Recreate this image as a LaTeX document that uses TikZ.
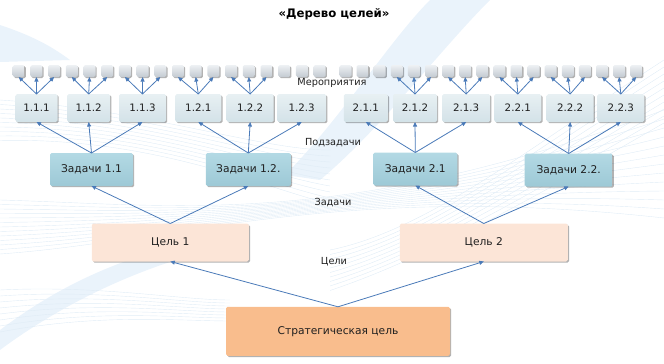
\documentclass[tikz,border=0pt]{standalone}
\usepackage{fontspec}
\setmainfont{DejaVu Sans}
\usetikzlibrary{shadows,arrows.meta}
\definecolor{arr}{HTML}{4A7AB8}
\definecolor{bgline}{HTML}{E0ECF6}
\definecolor{bgfill}{HTML}{EAF3FB}
\definecolor{sqtop}{HTML}{EEF1F4}
\definecolor{sqbot}{HTML}{C3CAD1}
\definecolor{subtop}{HTML}{E8F0F3}
\definecolor{subbot}{HTML}{D3E2E8}
\definecolor{tasktop}{HTML}{B3D9E4}
\definecolor{taskbot}{HTML}{9DC9D6}
\definecolor{goalfill}{HTML}{FCE5D7}
\definecolor{stratfill}{HTML}{F9BD8D}
\tikzset{
  base/.style={draw=none, rounded corners=1.2pt, inner sep=0pt, outer sep=0pt,
    align=center, text=black!88, font=\fontsize{8}{9.6}\selectfont,
    drop shadow={shadow xshift=0.9pt, shadow yshift=-0.9pt, fill=black, opacity=0.3}},
  wpx/.style={minimum width=#1*0.75pt},
  hpx/.style={minimum height=#1*0.75pt},
  sq/.style={base, wpx=12, hpx=12, top color=sqtop, bottom color=sqbot},
  subbox/.style={base, hpx=28, top color=subtop, bottom color=subbot, font=\fontsize{7.7}{9}\selectfont},
  taskbox/.style={base, hpx=33, top color=tasktop, bottom color=taskbot},
  goalbox/.style={base, hpx=38, fill=goalfill},
  stratbox/.style={base, hpx=49, fill=stratfill},
  lbl/.style={inner sep=0pt, text=black!88, font=\fontsize{7.3}{8.5}\selectfont},
  arrowln/.style={draw=arr, line width=0.6pt, -{Triangle[length=3.4pt,width=3pt]}},
}
\begin{document}
\begin{tikzpicture}[x=0.75pt,y=-0.75pt]
\useasboundingbox (0,0) rectangle (664,364);
% background decoration
\fill[bgfill] (285,175) .. controls (340,120) and (390,40) .. (430,0) -- (490,0) .. controls (440,50) and (380,130) .. (320,180) -- cycle;
\fill[bgfill] (0,25) .. controls (30,35) and (50,45) .. (70,60) -- (0,62) -- cycle;
\fill[bgfill] (0,330) .. controls (40,300) and (90,270) .. (160,250) -- (170,262) .. controls (100,285) and (40,320) .. (0,350) -- cycle;
\begin{scope}[draw=bgline, line width=0.3pt]
\foreach \k in {0,...,12} {
  \draw (0,{200+4.5*\k}) .. controls (180,{205+3*\k}) and (340,{230-4*\k}) .. (664,{110+9*\k});
}
\foreach \k in {0,...,9} {
  \draw (0,{100+4.5*\k}) .. controls (150,{110+3*\k}) and (260,{150+4*\k}) .. (330,{150+6*\k});
}
\foreach \k in {0,...,9} {
  \draw (330,{250+4.5*\k}) .. controls (430,{230+3*\k}) and (540,{140+6*\k}) .. (664,{60+7*\k});
}
\foreach \k in {0,...,7} {
  \draw (0,{290+6*\k}) .. controls (100,{285+4*\k}) and (180,{300+3*\k}) .. (230,{300+3*\k});
}
\end{scope}
% title
\node[font=\bfseries\fontsize{8.8}{10.5}\selectfont, text=black] (title) at (334,14) {«Дерево целей»};
% level labels
\node[lbl] (lmer) at (332,83) {Мероприятия};
\node[lbl] (lpod) at (333,142.5) {Подзадачи};
\node[lbl] (lzad) at (333,203) {Задачи};
\node[lbl] (lcel) at (334,262) {Цели};
% squares (left half)
\foreach \g [count=\gi from 0] in {111,112,113,121,122,123} {
  \foreach \j in {0,1,2} {
    \node[sq] (s\g-\j) at ({18.7+17.7*(3*\gi+\j)},71) {};
  }
}
% squares (right half)
\foreach \g [count=\gi from 0] in {211,212,213,221,222,223} {
  \foreach \j in {0,1,2} {
    \node[sq] (s\g-\j) at ({345.5+17.1*(3*\gi+\j)},71) {};
  }
}
% subtask boxes
\node[subbox, wpx=42] (b111) at (36.5,108) {1.1.1};
\node[subbox, wpx=43] (b112) at (88.7,108) {1.1.2};
\node[subbox, wpx=47] (b113) at (142.5,108) {1.1.3};
\node[subbox, wpx=46] (b121) at (198.3,108) {1.2.1};
\node[subbox, wpx=47] (b122) at (250.2,108) {1.2.2};
\node[subbox, wpx=49] (b123) at (301.7,108) {1.2.3};
\node[subbox, wpx=44] (b211) at (365.8,108) {2.1.1};
\node[subbox, wpx=44] (b212) at (415,108) {2.1.2};
\node[subbox, wpx=48] (b213) at (466.2,108) {2.1.3};
\node[subbox, wpx=47] (b221) at (517.8,108) {2.2.1};
\node[subbox, wpx=47] (b222) at (570.2,108) {2.2.2};
\node[subbox, wpx=47] (b223) at (620.8,108) {2.2.3};
% task boxes
\node[taskbox, wpx=83] (t11) at (91.5,169.5) {Задачи 1.1};
\node[taskbox, wpx=85] (t12) at (248.3,169.5) {Задачи 1.2.};
\node[taskbox, wpx=84] (t21) at (415.3,169) {Задачи 2.1};
\node[taskbox, wpx=88] (t22) at (568.7,170) {Задачи 2.2.};
% goal boxes
\node[goalbox, wpx=157] (g1) at (170.3,242.5) {Цель 1};
\node[goalbox, wpx=168] (g2) at (483.8,242.5) {Цель 2};
% strategic goal
\node[stratbox, wpx=224] (sg) at (338,331.3) {Стратегическая цель};
% arrows: subtasks -> activities
\foreach \g in {111,112,113,121,122,212,213,221,222,223} {
  \foreach \j in {0,1,2} {
    \draw[arrowln] (b\g.north) -- (s\g-\j.south);
  }
}
% tasks -> subtasks
\foreach \t/\a/\b/\c in {t11/b111/b112/b113, t12/b121/b122/b123, t21/b211/b212/b213, t22/b221/b222/b223} {
  \draw[arrowln] (\t.north) -- (\a.south);
  \draw[arrowln] (\t.north) -- (\b.south);
  \draw[arrowln] (\t.north) -- (\c.south);
}
% goals -> tasks
\draw[arrowln] (g1.north) -- (t11.south);
\draw[arrowln] (g1.north) -- (t12.south);
\draw[arrowln] (g2.north) -- (t21.south);
\draw[arrowln] (g2.north) -- (t22.south);
% strategic -> goals
\draw[arrowln] (sg.north) -- (g1.south);
\draw[arrowln] (sg.north) -- (g2.south);
\end{tikzpicture}
\end{document}
